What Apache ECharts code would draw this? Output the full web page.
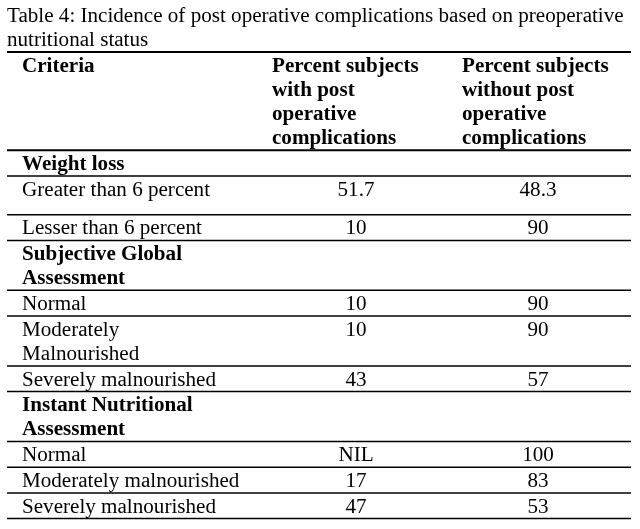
<!DOCTYPE html>
<html>
<head>
<meta charset="UTF-8">
<title>Table 4</title>
<script src="https://cdn.jsdelivr.net/npm/echarts@6/dist/echarts.min.js"></script>
<style>
	html, body { margin: 0; padding: 0; background: #fff; }
	#toShow { width: 640px; height: 529px; }
</style>
</head>
<body>
<div id="toShow"></div>
<script type="text/javascript">
	// table content
	var titleLines = ['Table 4: Incidence of post operative complications based on preoperative', 'nutritional status'];
	var headCriteria = ['Criteria'];
	var headWith = ['Percent subjects', 'with post', 'operative', 'complications'];
	var headWithout = ['Percent subjects', 'without post', 'operative', 'complications'];
	var groupNames = [['Weight loss'], ['Subjective Global', 'Assessment'], ['Instant Nutritional', 'Assessment']];
	var rowLabels = [
		['Greater than 6 percent'], ['Lesser than 6 percent'],
		['Normal'], ['Moderately', 'Malnourished'], ['Severely malnourished'],
		['Normal'], ['Moderately malnourished'], ['Severely malnourished']
	];
	var rowGroup = [0, 0, 1, 1, 1, 2, 2, 2];
	var withComp = [51.7, 10, 10, 10, 43, null, 17, 47]; // null = NIL
	var withoutComp = [48.3, 90, 90, 90, 57, 100, 83, 53];

	// layout
	var FONT = '"Liberation Serif", "Times New Roman", serif';
	var lineH = 24.2, pad = 1.5, firstOff = 14.5;
	var left = 7, right = 631;
	var colX = [22, 272, 462];
	var valX = [356, 538];
	var stretch = 1.055; // scanned text is a bit wider than the font
	var extraGap = { 0: 13 }; // blank paragraph after first data row

	var els = [];
	function txt(s, x, y, bold, align) {
		els.push({
			type: 'text', x: x, y: y, scaleX: stretch, silent: true,
			style: {
				text: s, fill: '#000', align: align || 'left', verticalAlign: 'middle',
				font: (bold ? 'bold ' : '') + '20px ' + FONT
			}
		});
	}
	function rule(y, w) {
		els.push({
			type: 'line', silent: true,
			shape: { x1: left, y1: y, x2: right, y2: y },
			style: { stroke: '#000', lineWidth: w || 1.5 }
		});
	}

	titleLines.forEach(function(s, i) { txt(s, left, 16.5 + i * 24, false); });

	var y = 52;
	rule(y, 2);
	// header row
	[headCriteria, headWith, headWithout].forEach(function(lines, c) {
		lines.forEach(function(s, k) { txt(s, colX[c], y + firstOff + k * lineH, true); });
	});
	y += headWith.length * lineH + pad;
	rule(y, 2);

	var lastGroup = -1;
	for(var r = 0; r < rowLabels.length; r++) {
		if(rowGroup[r] != lastGroup) {
			lastGroup = rowGroup[r];
			var g = groupNames[lastGroup];
			for(var k = 0; k < g.length; k++) txt(g[k], colX[0], y + firstOff + k * lineH, true);
			y += g.length * lineH + pad;
			rule(y);
		}
		var lab = rowLabels[r];
		for(var k = 0; k < lab.length; k++) txt(lab[k], colX[0], y + firstOff + k * lineH, false);
		txt(withComp[r] == null ? 'NIL' : String(withComp[r]), valX[0], y + firstOff, false, 'center');
		txt(String(withoutComp[r]), valX[1], y + firstOff, false, 'center');
		y += lab.length * lineH + pad + (extraGap[r] || 0);
		rule(y);
	}

	var chart = echarts.init(document.getElementById('toShow'));
	chart.setOption({
		backgroundColor: '#fff',
		animation: false,
		graphic: { elements: els }
	});
</script>
</body>
</html>
